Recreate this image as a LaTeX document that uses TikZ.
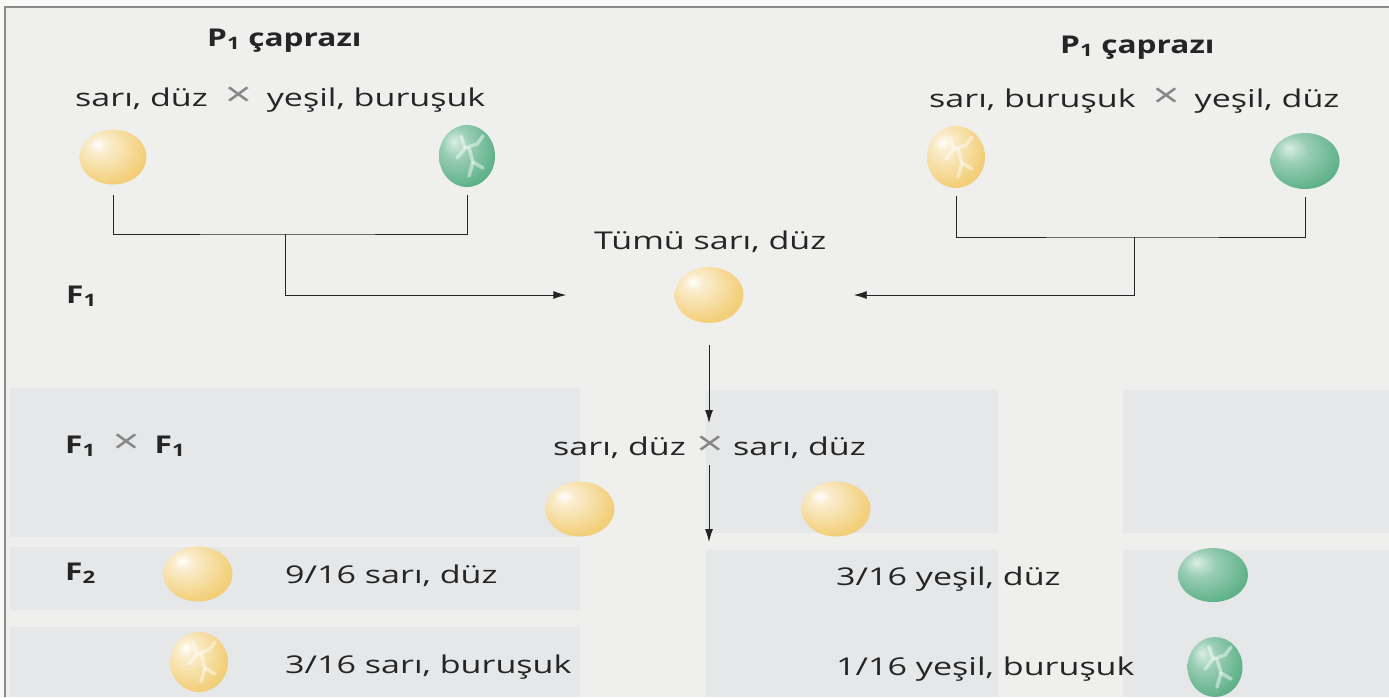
\documentclass[tikz,border=0pt]{standalone}
\usepackage{fontspec}
\setmainfont{Open Sans}[FakeStretch=1.39, BoldFeatures={FakeStretch=1.29}]
\usetikzlibrary{shapes.geometric,arrows.meta}

\definecolor{paper}{HTML}{EFEFED}
\definecolor{ghost}{HTML}{E5E7E9}
\definecolor{frame}{HTML}{8A8A8A}
\definecolor{ink}{HTML}{252525}
\definecolor{peayel}{HTML}{F0C45C}
\definecolor{peagrn}{HTML}{47A677}

% pea shadings, light from upper left
\pgfdeclareradialshading{yelpea}{\pgfpoint{-12bp}{12bp}}{color(0bp)=(white); color(7bp)=(peayel!30!white); color(30bp)=(peayel!80!white); color(52bp)=(peayel); color(75bp)=(peayel!75!brown)}
\pgfdeclareradialshading{grnpea}{\pgfpoint{-12bp}{12bp}}{color(0bp)=(peagrn!20!white); color(12bp)=(peagrn!55!white); color(34bp)=(peagrn!90!white); color(55bp)=(peagrn); color(75bp)=(peagrn!70!black)}

\tikzset{
  lbl/.style={font=\fontsize{24.5}{29}\selectfont, text=ink, inner sep=0pt},
  hdr/.style={lbl, font=\fontsize{24.5}{29}\selectfont\bfseries},
  pea/.style={ellipse, inner sep=0pt, shade, minimum width=69pt, minimum height=55pt},
  yel/.style={pea, shading=yelpea},
  grn/.style={pea, shading=grnpea},
  crease/.style={draw=white, opacity=0.45, line width=3.6pt, line cap=round, line join=round},
  wrinkled/.style={minimum width=57pt, minimum height=61pt,
    path picture={
      \draw[crease] (path picture bounding box.center) ++(-6,-20) -- ++(4,12) -- ++(-8,10);
      \draw[crease] (path picture bounding box.center) ++(-2,-8) -- ++(12,-4) -- ++(6,-8);
      \draw[crease] (path picture bounding box.center) ++(2,-8) -- ++(4,14) -- ++(10,6);
      \draw[crease] (path picture bounding box.center) ++(6,6) -- ++(-4,14);
    }},
  link/.style={draw=ink, line width=0.9pt},
  arr/.style={link, -{Latex[length=13pt,width=8pt]}}
}

\newcommand{\crossglyph}{{\fontsize{34}{34}\selectfont\mdseries\color{ink!55}×}}
\newcommand{\crosssign}{\hspace{17pt}\crossglyph\hspace{15pt}}

\begin{document}
\begin{tikzpicture}[x=1pt,y=-1pt]
  \useasboundingbox (0,0) rectangle (1389,697);
  \fill[paper] (0,0) rectangle (1389,697);
  \fill[white!60!paper] (0,0) rectangle (1389,7);
  \fill[white!60!paper] (0,0) rectangle (5,697);

  % faint panels
  \fill[ghost] (10,388) rectangle (580,537);
  \fill[ghost] (10,547) rectangle (580,610);
  \fill[ghost] (10,627) rectangle (580,697);
  \fill[ghost] (706,390) rectangle (998,533);
  \fill[ghost] (706,550) rectangle (998,697);
  \fill[ghost] (1123,390) rectangle (1389,533);
  \fill[ghost] (1123,550) rectangle (1389,697);

  % frame
  \draw[frame, line width=1.2pt] (5,697) -- (5,7) -- (1389,7);

  % P1 crosses
  \node[hdr, anchor=base west] (p1a) at (207,46) {P\textsubscript{1} çaprazı};
  \node[hdr, anchor=base west] (p1b) at (1060,53) {P\textsubscript{1} çaprazı};
  \node[lbl, anchor=base west] (ca) at (75,106) {sarı, düz\crosssign yeşil, buruşuk};
  \node[lbl, anchor=base west] (cb) at (929,107) {sarı, buruşuk\crosssign yeşil, düz};

  \node[yel, minimum width=67pt] (ys1) at (113,157) {};
  \node[grn, wrinkled, minimum width=56pt, minimum height=62pt] (gw1) at (467,156) {};
  \node[yel, wrinkled, minimum width=58pt, minimum height=62pt] (yw2) at (956,157) {};
  \node[grn, minimum height=56pt] (gs2) at (1305,161) {};

  % F1
  \node[lbl, anchor=base west] (tumu) at (594,249) {Tümü sarı, düz};
  \node[yel, minimum height=56pt] (f1) at (709,295) {};
  \node[hdr, anchor=base west] (lf1) at (66,303) {F\textsubscript{1}};

  \coordinate (j1) at (285,234);
  \coordinate (j2) at (1134,237);
  \draw[link] ([yshift=-10pt]ys1.south) |- (j1) -| ([yshift=-8pt]gw1.south);
  \draw[arr] (j1) |- ([xshift=-108pt]f1.west);
  \draw[link] ([yshift=-8pt]yw2.south) |- (j2) -| ([yshift=-8pt]gs2.south);
  \draw[arr] (j2) |- ([xshift=110pt]f1.east);

  % F1 x F1
  \node[hdr, anchor=base west] (lf1f1) at (65,453) {F\textsubscript{1}\crosssign F\textsubscript{1}};
  \node[lbl, anchor=base] (cx) at (710,455) {\crossglyph};
  \node[lbl, anchor=base east] (cl) at (686,455) {sarı, düz};
  \node[lbl, anchor=base west] (cr) at (733,455) {sarı, düz};
  \coordinate (a1) at (709,423);
  \coordinate (a2) at (709,465);
  \coordinate (a3) at (709,542);
  \draw[arr] ([yshift=-22pt]f1.south) -- (a1);
  \draw[arr] (a2) -- (a3);
  \node[yel] (ys4) at (580,509) {};
  \node[yel] (ys5) at (836,509) {};

  % F2
  \node[hdr, anchor=base west] (lf2) at (65,580) {F\textsubscript{2}};
  \node[yel] (ys3) at (198,574) {};
  \node[yel, wrinkled, minimum width=58pt, minimum height=60pt] (yw3) at (199,662) {};
  \node[grn, minimum width=70pt, minimum height=54pt] (gs3) at (1213,575) {};
  \node[grn, wrinkled, minimum width=55pt, minimum height=60pt] (gw3) at (1215,667) {};
  \node[lbl, anchor=base west] (r1) at (285,583) {9/16 sarı, düz};
  \node[lbl, anchor=base west] (r2) at (285,673) {3/16 sarı, buruşuk};
  \node[lbl, anchor=base west] (r3) at (836,585) {3/16 yeşil, düz};
  \node[lbl, anchor=base west] (r4) at (836,675) {1/16 yeşil, buruşuk};
\end{tikzpicture}
\end{document}
